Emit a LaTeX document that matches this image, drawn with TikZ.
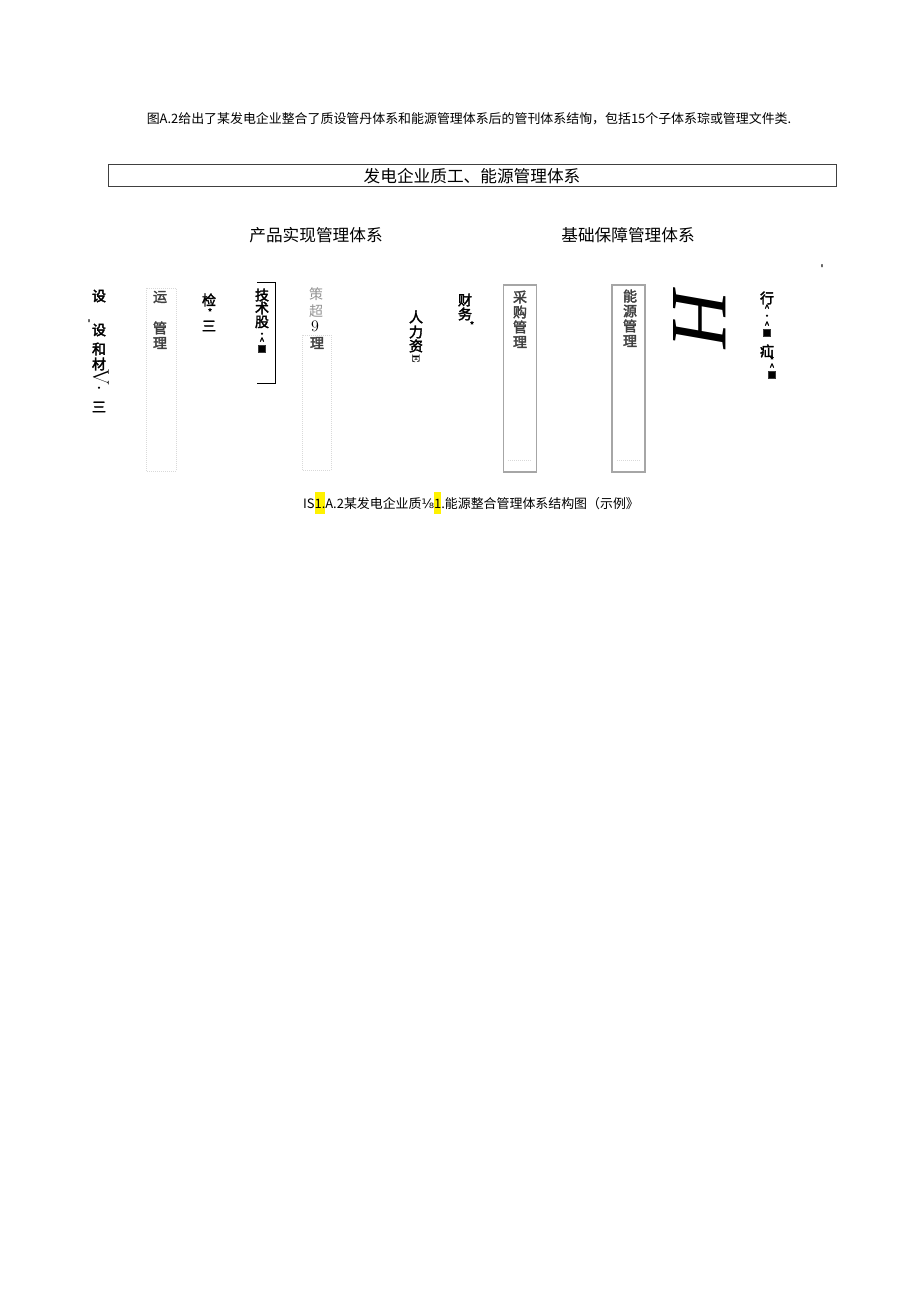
\documentclass[tikz,border=0pt]{standalone}
\usepackage{fontspec}
\newfontfamily\cjk{Noto Sans CJK SC}
\newfontfamily\cjkb[FakeBold=2.5]{Noto Sans CJK SC}
\newfontfamily\serifit{Liberation Serif}
\newfontfamily\dejavu{DejaVu Sans}
\begin{document}
\begin{tikzpicture}[x=0.75pt,y=-0.75pt,
 line1/.style ={inner sep=0pt, font=\cjk\fontsize{9.7}{9.7}\selectfont},
 head/.style ={inner sep=0pt, font=\cjk\fontsize{12.5}{12.5}\selectfont},
 titlebox/.style ={rectangle, draw=black!75, line width=0.75pt, minimum width=546pt, minimum height=16.5pt, inner sep=0pt, font=\cjk\fontsize{12.5}{12.5}\selectfont},
 colbox/.style ={rectangle, draw=gray!70, line width=1.2pt, minimum width=25pt, minimum height=140pt, inner sep=0pt},
 vchar/.style ={inner sep=0pt, font=\cjkb\fontsize{10.5}{10.5}\selectfont},
 blur/.style ={vchar, text=black!75},
 lightchar/.style ={inner sep=0pt, font=\cjk\fontsize{10.5}{10.5}\selectfont, text=gray!85},
 tinymark/.style ={inner sep=0pt, font=\cjkb\fontsize{7}{7}\selectfont},
 faint/.style ={draw=gray!30, densely dotted, line width=0.5pt}]

\useasboundingbox (0,0) rectangle (920,1301);

\draw (469,119) node[line1] (intro) {图A.2给出了某发电企业整合了质设管丹体系和能源管理体系后的管刊体系结恂，包括15个子体系琮或管理文件类.};

\draw (472,176) node[titlebox] (sys) {发电企业质工、能源管理体系};

\draw (316,235) node[head] (prod) {产品实现管理体系};
\draw (628,235) node[head] (base) {基础保障管理体系};
\draw (822,268) node[tinymark] (tick) {'};

% column 1
\draw (99,296) node[vchar] (dev1) {设};
\draw (89,323) node[tinymark] (dev2) {'};
\draw (99,330) node[vchar] (dev3) {设};
\draw (99,349) node[vchar] (dev4) {和};
\draw (99,364) node[vchar] (dev5) {材};
\draw (101,377) node[rotate=-90, inner sep=0pt, font=\fontsize{17}{17}\selectfont] (dev6) {V};
\draw (99,389) node[tinymark] (dev7) {·};
\draw (99,407) node[vchar] (dev8) {三};

% column 2
\draw[faint] (146,288) rectangle (176,471);
\draw (160,297) node[blur] (run1) {运};
\draw (160,328) node[blur] (run2) {管};
\draw (160,343) node[blur] (run3) {理};

% column 3
\draw (209,300) node[vchar] (chk1) {检};
\draw (210,312) node[tinymark] (chk2) {*};
\draw (209,326) node[vchar] (chk3) {三};

% column 4
\draw (257,282) -- (275,282) -- (275,383) -- (257,383);
\draw (262,295) node[vchar] (tec1) {技};
\draw (262,308) node[vchar] (tec2) {术};
\draw (262,322) node[vchar] (tec3) {股};
\draw (262,335) node[tinymark] (tec4) {·};
\draw (262,341) node[tinymark] (tec5) {\^{}};
\draw (262,349) node[tinymark] (tec6) {■};

% column 5
\draw[faint] (302,335) rectangle (331,470);
\draw (316,294) node[lightchar] (plan1) {策};
\draw (316,311) node[lightchar] (plan2) {超};
\draw (315,326) node[inner sep=0pt, font=\fontsize{12}{12}\selectfont] (plan3) {9};
\draw (317,343) node[blur] (plan4) {理};

% column 6
\draw (416,317) node[vchar] (hr1) {人};
\draw (416,332) node[vchar] (hr2) {力};
\draw (416,346) node[vchar] (hr3) {资};
\draw (416,359) node[rotate=-90, inner sep=0pt, font=\bfseries\fontsize{8}{8}\selectfont] (hr4) {E};

% column 7
\draw (465,300) node[vchar] (fin1) {财};
\draw (465,314) node[vchar] (fin2) {务};
\draw (472,325) node[tinymark] (fin3) {*};

% column 8
\draw (520,378.5) node[colbox] (buybox) {};
\draw[faint] (508,460) -- (532,460);
\draw (520,297) node[blur] (buy1) {采};
\draw (520,312) node[blur] (buy2) {购};
\draw (520,327) node[blur] (buy3) {管};
\draw (520,342) node[blur] (buy4) {理};

% column 9
\draw (628.5,378.5) node[colbox] (engbox) {};
\draw[faint] (617,460) -- (641,460);
\draw (630,296) node[blur] (eng1) {能};
\draw (630,311) node[blur] (eng2) {源};
\draw (630,326) node[blur] (eng3) {管};
\draw (630,341) node[blur] (eng4) {理};

% column 10
\draw (700,317) node[rotate=-90, inner sep=0pt, font=\serifit\itshape\fontsize{60}{60}\selectfont] (bigH) {H};

% column 11
\draw (767,298) node[vchar] (adm1) {行};
\draw (767,308) node[tinymark] (adm2) {\^{}};
\draw (767,317) node[tinymark] (adm3) {·};
\draw (767,325) node[tinymark] (adm4) {\^{}};
\draw (767,333) node[tinymark] (adm5) {■};
\draw (767,351) node[vchar] (adm6) {疝};
\draw (772,360) node[tinymark] (adm7) {*};
\draw (772,367) node[tinymark] (adm8) {\^{}};
\draw (772,375) node[tinymark] (adm9) {■};

\draw (471,503) node[line1] (cap) {IS{\setlength{\fboxsep}{0pt}\colorbox{yellow}{\rule[-4.5pt]{0pt}{17pt}1.}}A.2某发电企业质{\dejavu ⅛}{\setlength{\fboxsep}{0pt}\colorbox{yellow}{\rule[-4.5pt]{0pt}{17pt}1}}.能源整合管理体系结构图（示例》};

\end{tikzpicture}
\end{document}
